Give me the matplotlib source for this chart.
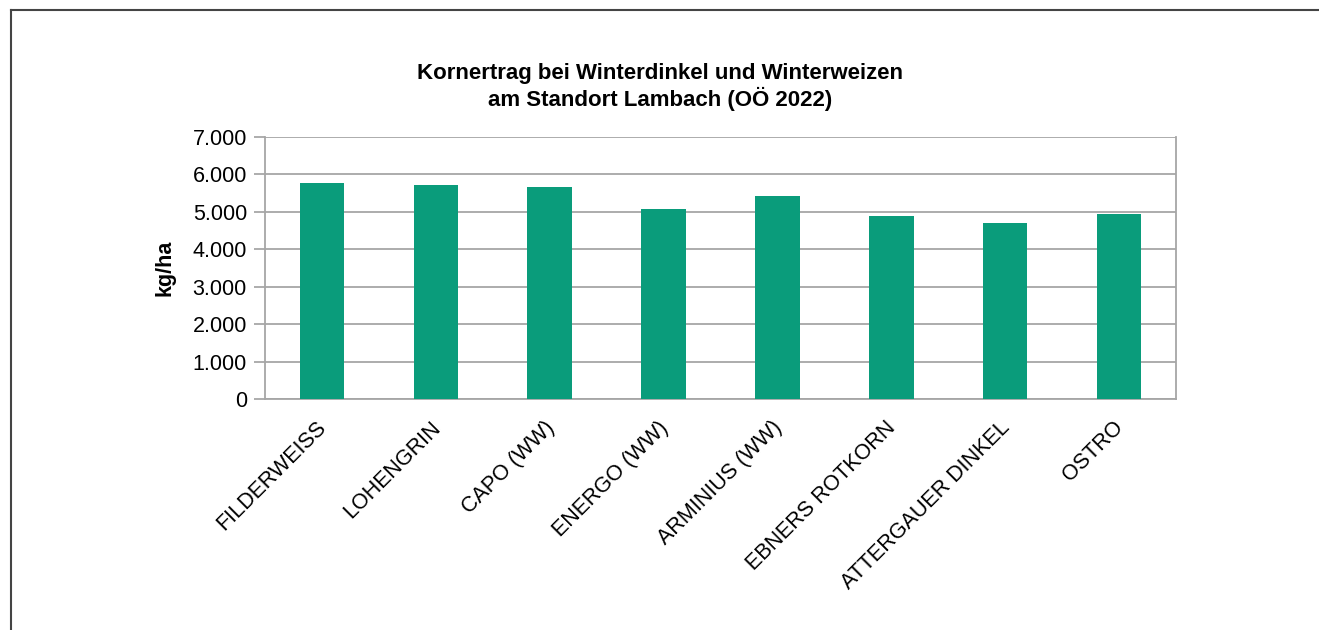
import matplotlib
matplotlib.use("Agg")
import matplotlib.pyplot as plt
from matplotlib.lines import Line2D
from matplotlib.transforms import ScaledTranslation

categories = ["FILDERWEISS", "LOHENGRIN", "CAPO (WW)", "ENERGO (WW)",
              "ARMINIUS (WW)", "EBNERS ROTKORN", "ATTERGAUER DINKEL", "OSTRO"]
values = [5770, 5725, 5675, 5085, 5425, 4890, 4695, 4935]
yticks = [0, 1000, 2000, 3000, 4000, 5000, 6000, 7000]
yticklabels = ["0", "1.000", "2.000", "3.000", "4.000", "5.000", "6.000", "7.000"]
title = "Kornertrag bei Winterdinkel und Winterweizen\nam Standort Lambach (OÖ 2022)"
ylabel = "kg/ha"

plt.rcParams['font.family'] = ['Liberation Sans', 'DejaVu Sans']

fig = plt.figure(figsize=(13.19, 6.30), dpi=100)
ax = fig.add_axes([265/1319, 1-399/630, (1176-265)/1319, (399-137)/630])

x = list(range(len(categories)))
ax.bar(x, values, width=0.39, color="#0a9c7b", zorder=3)

ax.set_xlim(-0.5, len(categories)-0.5)
ax.set_ylim(0, 7000)
ax.set_yticks(yticks)
ax.set_yticklabels(yticklabels, fontsize=15.5)
ax.set_xticks(x)
ax.set_xticklabels(categories, rotation=45, ha="right", rotation_mode="anchor", fontsize=15.5)
ax.tick_params(axis="x", length=0, pad=13)
ax.tick_params(axis="y", length=8, width=1.2, color="#a0a0a0", pad=5)
offset = ScaledTranslation(-6/100, 0, fig.dpi_scale_trans)
for lbl in ax.get_xticklabels():
    lbl.set_transform(lbl.get_transform() + offset)
ax.yaxis.grid(True, color="#a6a6a6", linewidth=1.3, zorder=0)
for s in ["left", "bottom", "right", "top"]:
    ax.spines[s].set_color("#a6a6a6")
    ax.spines[s].set_linewidth(1.3)
ax.spines["top"].set_visible(False)

ax.set_ylabel(ylabel, fontsize=15.5, fontweight="bold", labelpad=12)
fig.text(660/1319, 1-87/630, title, ha="center", va="center", fontsize=16,
         fontweight="bold", linespacing=1.2)

fig.add_artist(Line2D([11/1319, 11/1319], [0, 1-10/630], color="#444444", linewidth=1.5,
                      transform=fig.transFigure))
fig.add_artist(Line2D([11/1319, 1], [1-10/630, 1-10/630], color="#444444", linewidth=1.5,
                      transform=fig.transFigure))

fig.savefig("out.png", dpi=100, facecolor="white")
